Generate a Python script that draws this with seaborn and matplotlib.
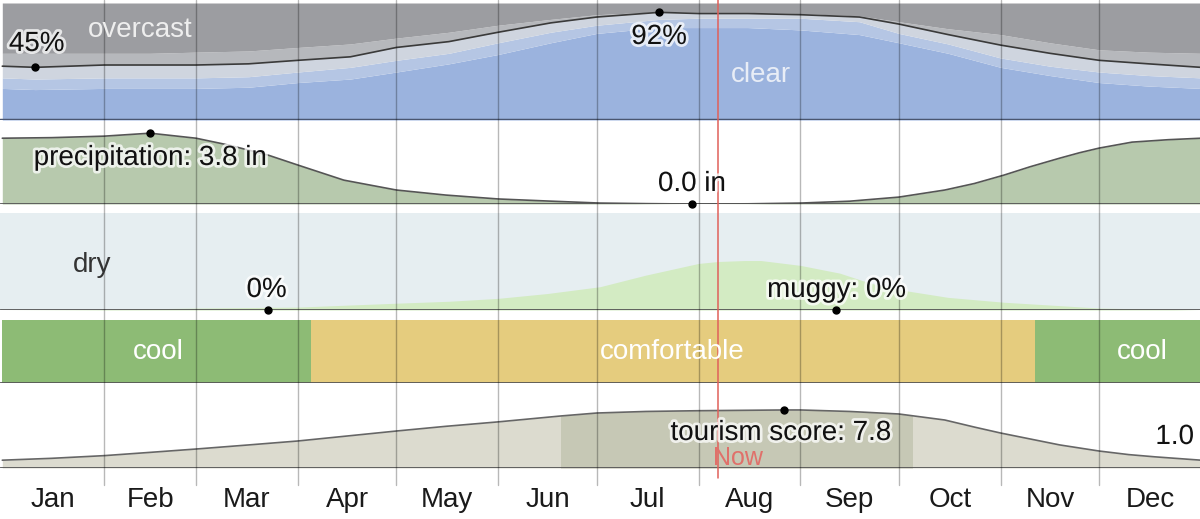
import numpy as np
import matplotlib
matplotlib.use("Agg")
import matplotlib.pyplot as plt
import matplotlib.patheffects as pe
from matplotlib.patches import Rectangle
import seaborn as sns

# ---------------- data ----------------
months = ["Jan", "Feb", "Mar", "Apr", "May", "Jun", "Jul", "Aug", "Sep", "Oct", "Nov", "Dec"]
month_start = [0, 31, 59, 90, 120, 151, 181, 212, 243, 273, 304, 334]
month_len = [31, 28, 31, 30, 31, 30, 31, 31, 30, 31, 30, 31]

# cloud cover: cumulative upper edge (%) of each category, bottom to top
cloud_days = [0, 10, 31, 45, 59, 75, 90, 106, 120, 136, 151, 167, 181, 200, 212, 227, 243, 261,
              273, 288, 304, 319, 334, 349, 365]
clear_top = [27, 26, 27, 27, 27, 28, 32, 35, 41, 48, 56, 66, 74, 79, 79, 79, 77, 73, 66, 57, 45,
             38, 32, 29, 27]
mostly_clear_top = [36, 35, 36, 36, 36, 37, 41, 45, 51, 57, 66, 75, 81, 86, 87, 87, 87, 84, 74, 65,
                    53, 46, 41, 38, 36]
partly_cloudy_top = [46, 45, 47, 47, 47, 48, 51, 54, 62, 67, 75, 83, 88, 92, 91, 91, 90, 88, 82,
                     73, 64, 57, 51, 48, 45]
mostly_cloudy_top = [57, 57, 57, 57, 58, 59, 62, 65, 70, 75, 81, 86, 90, 92.5, 92, 92, 91, 89, 84,
                     78, 73, 66, 60, 58, 57]

precip_days = [0, 15, 31, 45, 59, 69, 81, 90, 104, 120, 135, 151, 166, 182, 196, 210, 227, 243,
               258, 273, 287, 296, 305, 313, 322, 328, 334, 344, 355, 365]
precip_in = [3.53, 3.56, 3.64, 3.8, 3.53, 3.16, 2.62, 2.09, 1.28, 0.75, 0.48, 0.27, 0.16, 0.05,
             0.02, 0.0, 0.01, 0.05, 0.15, 0.37, 0.75, 1.1, 1.55, 2.0, 2.46, 2.75, 3.0, 3.32, 3.45,
             3.53]

humid_days = [0, 31, 59, 90, 120, 136, 151, 166, 182, 196, 212, 218, 226, 231, 243, 255, 264,
              273, 288, 305, 334, 365]
humid_pct = [0, 0.5, 2, 3, 7, 9, 12, 17, 24, 36, 48, 50, 51, 51, 46, 38, 28, 21, 13, 8, 2, 0]

temp_band_days = [0, 94, 314.5, 365]
temp_band_names = ["cool", "comfortable", "cool"]

tour_days = [0, 15, 31, 45, 59, 75, 90, 105, 120, 135, 151, 170, 181, 196, 212, 238, 243, 258,
             273, 287, 296, 304, 313, 322, 334, 343, 351, 365]
tour_score = [1.05, 1.3, 1.66, 2.1, 2.55, 3.1, 3.63, 4.3, 4.97, 5.6, 6.2, 6.99, 7.39, 7.6, 7.7,
              7.8, 7.8, 7.6, 7.26, 6.45, 5.5, 4.7, 3.9, 3.1, 2.28, 1.8, 1.5, 1.05]
best_start, best_end = 170, 277

now_day = 218

# ---------------- style ----------------
sns.set_style("white")
plt.rcParams['font.family'] = ['Liberation Sans', 'DejaVu Sans']

W, H = 1200, 519
fig = plt.figure(figsize=(W / 100, H / 100), dpi=100)
XMIN, XMAX = -0.7, 364.7


def panel(top, bottom):
    ax = fig.add_axes([0, 1 - bottom / H, 1, (bottom - top) / H])
    ax.set_xlim(XMIN, XMAX)
    ax.axis("off")
    return ax


halo = [pe.withStroke(linewidth=4, foreground="white", alpha=0.75)]
FS = 20

# ---- cloud cover ----
ax1 = panel(3, 120)
ax1.set_ylim(0, 100)
ax1.fill_between(cloud_days, 0, clear_top, color="#9bb3de", lw=0)
ax1.fill_between(cloud_days, clear_top, mostly_clear_top, color="#b5c6e4", lw=0)
ax1.fill_between(cloud_days, mostly_clear_top, partly_cloudy_top, color="#cfd5df", lw=0)
ax1.fill_between(cloud_days, partly_cloudy_top, mostly_cloudy_top, color="#b6b8bc", lw=0)
ax1.fill_between(cloud_days, mostly_cloudy_top, 100, color="#9c9da1", lw=0)
sns.lineplot(x=cloud_days, y=partly_cloudy_top, ax=ax1, color="#3a3a3a", lw=1.2)
ax1.axhline(0, color="#4a5670", lw=2.5)
ax1.plot([10], [45], "o", color="black", ms=5)
ax1.plot([200], [92], "o", color="black", ms=5)

# ---- precipitation ----
ax2 = panel(122, 204)
ax2.set_ylim(0, 4.4)
ax2.fill_between(precip_days, 0, precip_in, color="#b7c9ad", lw=0)
sns.lineplot(x=precip_days, y=precip_in, ax=ax2, color="#555555", lw=1.2)
ax2.axhline(0, color="#555555", lw=2)
ax2.plot([45], [3.8], "o", color="black", ms=5, clip_on=False)
ax2.plot([210], [0.0], "o", color="black", ms=5, clip_on=False)

# ---- humidity ----
ax3 = panel(213, 310)
ax3.set_ylim(0, 100)
ax3.axhspan(0, 100, color="#e6eef1", lw=0)
ax3.fill_between(humid_days, 0, humid_pct, color="#d3ebc3", lw=0)
ax3.axhline(0, color="#555555", lw=2)
ax3.plot([81], [0], "o", color="black", ms=5, clip_on=False)
ax3.plot([254], [0], "o", color="black", ms=5, clip_on=False)

# ---- temperature bands ----
ax4 = panel(320, 383)
ax4.set_ylim(0, 1)
band_colors = {"cool": "#8dbb75", "comfortable": "#e5cc7e"}
for i, name in enumerate(temp_band_names):
    ax4.axvspan(temp_band_days[i], temp_band_days[i + 1], color=band_colors[name], lw=0)
ax4.axhline(0, color="#555555", lw=2)

# ---- tourism ----
ax5 = panel(383, 468)
ax5.set_ylim(0, 85 / 7.44)
ax5.fill_between(tour_days, 0, tour_score, color="#dcdbcf", lw=0)
best = ax5.fill_between(tour_days, 0, tour_score, color="#c6c8b5", lw=0)
best.set_clip_path(Rectangle((best_start, 0), best_end - best_start, 20, transform=ax5.transData))
sns.lineplot(x=tour_days, y=tour_score, ax=ax5, color="#666666", lw=1.2)
ax5.axhline(0, color="#555555", lw=2)
ax5.plot([238], [7.8], "o", color="black", ms=5)

# ---- overlay: grid, now line, labels ----
ov = fig.add_axes([0, 0, 1, 1])
ov.set_xlim(XMIN, XMAX)
ov.set_ylim(H, 0)
ov.axis("off")
ov.patch.set_alpha(0)
for d in month_start[1:]:
    ov.plot([d, d], [0, 485], color="black", alpha=0.28, lw=1, zorder=2)
ov.plot([now_day, now_day], [0, 478], color="#e0605a", lw=1.1, zorder=3)

for m, s, n in zip(months, month_start, month_len):
    ov.text(s + n / 2, 500, m, ha="center", va="center", fontsize=FS, color="#1a1a1a")


def label(x, y, s, color="#111111", effects=True, size=FS):
    t = ov.text(x, y, s, ha="center", va="center", fontsize=size, color=color, zorder=5)
    if effects:
        t.set_path_effects(halo)
    return t


label(10.5, 44, "45%")
label(42, 30, "overcast", color="#eeeeee", effects=False)
label(200, 37, "92%")
label(231, 75, "clear", color="#e8edf6", effects=False)
label(45, 158, "precipitation: 3.8 in")
label(210, 184, "0.0 in")
label(27.5, 265, "dry", color="#333333", effects=False)
label(80.5, 290, "0%")
label(254, 290, "muggy: 0%")
label(47.5, 352, "cool", color="white", effects=False)
label(204, 352, "comfortable", color="white", effects=False)
label(347, 352, "cool", color="white", effects=False)
label(237, 433, "tourism score: 7.8")
label(357, 437, "1.0")
label(224, 458, "Now", color="#e0706a", effects=False, size=18)

fig.savefig("out.png", dpi=100)
